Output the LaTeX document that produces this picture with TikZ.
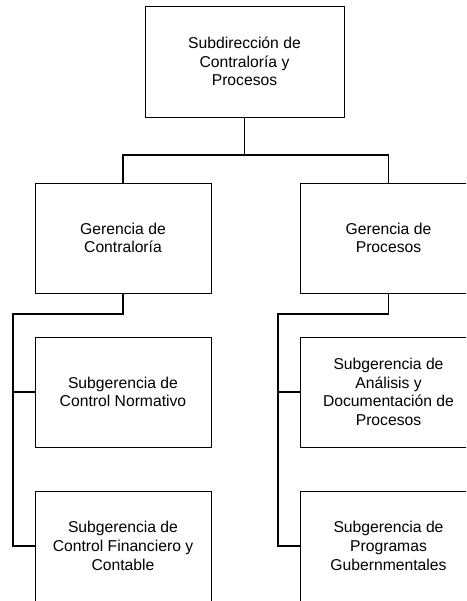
\documentclass[tikz,border=0pt]{standalone}
\usepackage{fontspec}
\setmainfont{Liberation Sans}
\begin{document}
\begin{tikzpicture}[x=1pt,y=-1pt,
  box/.style={draw, line width=0.9pt, minimum width=176pt, minimum height=110pt, align=center, inner sep=0pt, font=\fontsize{15.7}{18.7}\selectfont},
  conn/.style={draw, line width=1.8pt}]
\clip (0,0) rectangle (466,601);
\fill[white] (0,0) rectangle (466,601);
\node[box, minimum width=199pt, minimum height=111pt] (top) at (244.5,61.5) {Subdirección de\\Contraloría y\\Procesos};
\node[box] (gl) at (123,238) {Gerencia de\\Contraloría};
\node[box] (gr) at (388.5,238) {Gerencia de\\Procesos};
\node[box] (l1) at (123,392) {Subgerencia de\\Control Normativo};
\node[box] (l2) at (123,546) {Subgerencia de\\Control Financiero y\\Contable};
\node[box] (r1) at (388.5,392) {Subgerencia de\\Análisis y\\Documentación de\\Procesos};
\node[box] (r2) at (388.5,546) {Subgerencia de\\Programas\\Gubernmentales};
\coordinate (bus) at (244.5,155);
\coordinate (lbus) at (13,314);
\coordinate (rbus) at (278,314);
\draw[conn] (top.south) -- (bus);
\draw[conn] (gl.north) |- (bus) -| (gr.north);
\draw[conn] (gl.south) |- (lbus) |- (l2.west);
\draw[conn] (lbus) |- (l1.west);
\draw[conn] (gr.south) |- (rbus) |- (r2.west);
\draw[conn] (rbus) |- (r1.west);
\end{tikzpicture}
\end{document}
